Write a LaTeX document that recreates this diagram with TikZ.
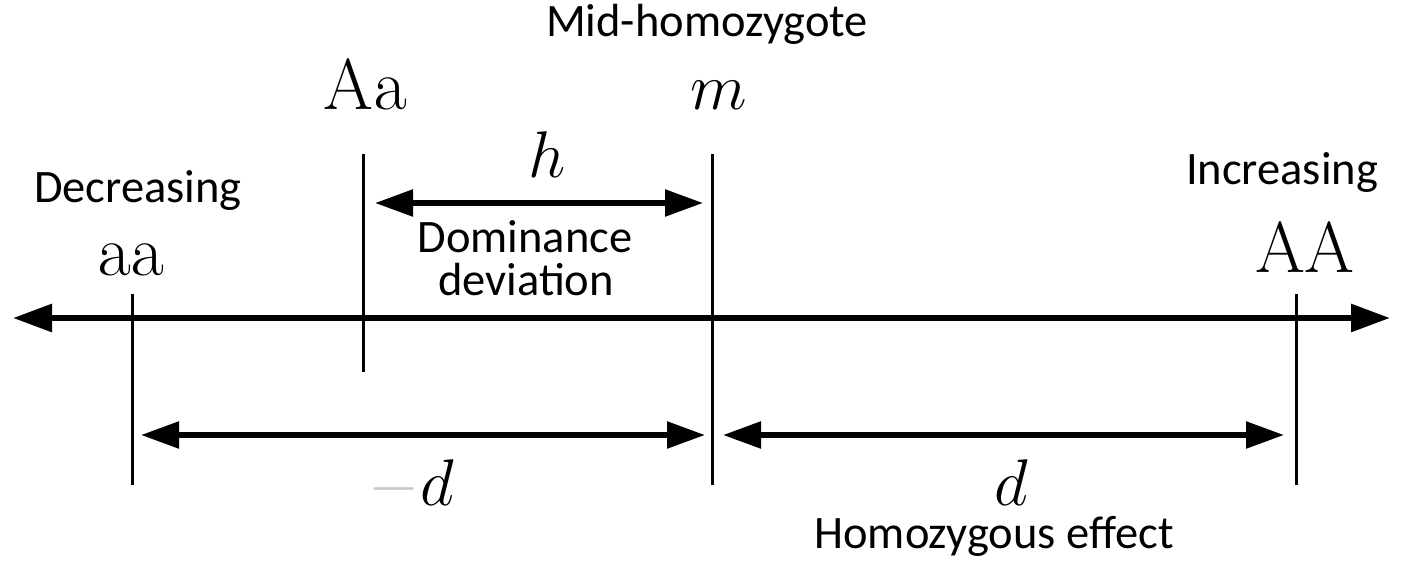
\documentclass[tikz,border=0pt]{standalone}
\usepackage{fix-cm}
\usepackage[no-math]{fontspec}
\setmainfont{Carlito}
\usetikzlibrary{arrows.meta}
\definecolor{minusgray}{gray}{0.78}
\begin{document}
\begin{tikzpicture}[x=1pt,y=-1pt,
  axisline/.style={line width=6pt,
    {Triangle[length=39pt,width=27pt]}-{Triangle[length=39pt,width=27pt]}},
  dimline/.style={line width=5.5pt,
    {Triangle[length=38pt,width=26pt]}-{Triangle[length=38pt,width=26pt]}},
  tickline/.style={line width=3pt},
  lbl/.style={font=\fontsize{46.5}{46.5}\selectfont, inner sep=0pt, anchor=base},
  mth/.style={font=\fontsize{66}{66}\selectfont, inner sep=0pt, anchor=base},
  mrm/.style={font=\fontsize{72}{72}\selectfont, inner sep=0pt, anchor=base}]
\useasboundingbox (0,0) rectangle (1401,567);
\fill[white] (0,0) rectangle (1401,567);

% coordinates
\coordinate (axL) at (13,318);
\coordinate (axR) at (1390,318);
\coordinate (aaT) at (132,294);  \coordinate (aaB) at (132,485);
\coordinate (AaT) at (363,154);  \coordinate (AaB) at (363,372);
\coordinate (mT)  at (712,154);  \coordinate (mB)  at (712,485);
\coordinate (AAT) at (1296,294); \coordinate (AAB) at (1296,485);
\coordinate (hL) at (375,203);   \coordinate (hR) at (703,203);
\coordinate (ndL) at (141,435);  \coordinate (ndR) at (705,435);
\coordinate (dL) at (723,435);   \coordinate (dR) at (1284,435);

% main axis and ticks
\draw[axisline] (axL) -- (axR);
\draw[tickline] (aaT) -- (aaB);
\draw[tickline] (AaT) -- (AaB);
\draw[tickline] (mT) -- (mB);
\draw[tickline] (AAT) -- (AAB);

% dimension arrows
\draw[dimline] (hL) -- (hR);
\draw[dimline] (ndL) -- (ndR);
\draw[dimline] (dL) -- (dR);

% labels
\node[lbl] (mid) at (707,37) {Mid-homozygote};
\node[mrm] (Aa) at (365,110) {$\mathrm{Aa}$};
\node[mth] (m) at (719,110) {$m$};
\node[mth] (h) at (547,178) {$h$};
\node[lbl] (dec) at (138,202) {Decreasing};
\node[lbl] (inc) at (1282,185) {Increasing};
\node[mrm] (aa) at (131,275) {$\mathrm{aa}$};
\node[mrm] (AA) at (1305,272) {$\mathrm{AA}$};
\node[lbl] (dom1) at (525,252) {Dominance};
\node[lbl] (dom2) at (526,295) {deviation};
\node[mth, anchor=base east] (nd) at (454,505) {${\color{minusgray}-}d$};
\node[mth] (d) at (1011,505) {$d$};
\node[lbl] (hom) at (994,548) {Homozygous effect};
\end{tikzpicture}
\end{document}
